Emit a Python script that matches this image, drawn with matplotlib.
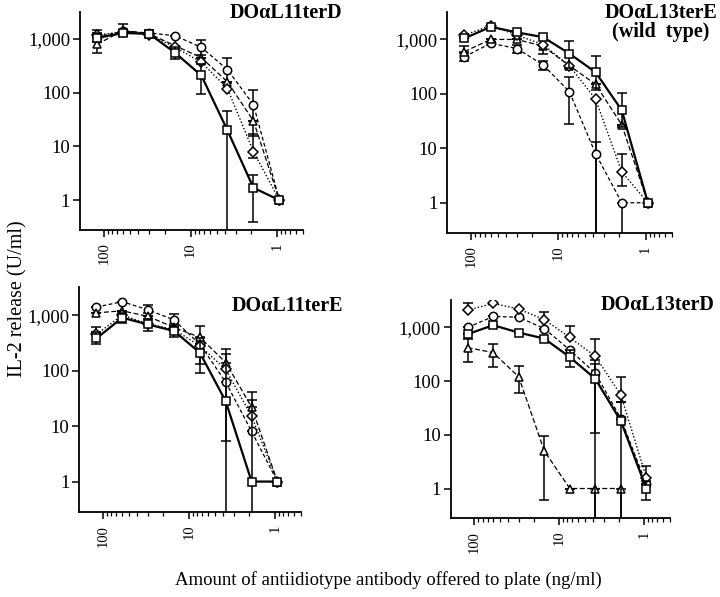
import numpy as np
import matplotlib
matplotlib.use("Agg")
from matplotlib import pyplot as plt
from matplotlib.ticker import FixedLocator, NullLocator, LogLocator, NullFormatter

plt.rcParams['font.family'] = ['Liberation Serif', 'DejaVu Serif']

# antibody amounts (ng/ml), twofold dilutions
dose = [120, 60, 30, 15, 7.5, 3.75, 1.875, 0.94]
BOTTOM = 0.01  # bar runs off the bottom of the axis

# --- DOaL11terD ---
tl_sq = [1050, 1300, 1250, 550, 210, 20, 1.7, 1]
tl_sq_lo = [900, 1150, 1100, 420, 95, BOTTOM, 0.4, 1]
tl_sq_hi = [1300, 1500, 1400, 700, 350, 45, 3.0, 1]
tl_ci = [1100, 1400, 1300, 1150, 700, 270, 60, 1]
tl_ci_lo = [1100, 1400, 1300, 1150, 500, 150, 30, 1]
tl_ci_hi = [1100, 1400, 1300, 1150, 980, 450, 115, 1]
tl_tr = [800, 1450, 1250, 750, 450, 160, 30, 1]
tl_tr_lo = [550, 1300, 1100, 750, 450, 160, 16, 1]
tl_tr_hi = [1500, 1900, 1500, 750, 450, 160, 30, 1]
tl_di = [1200, 1350, 1200, 700, 370, 120, 8, 1]
tl_di_lo = [1200, 1350, 1200, 700, 370, 120, 6, 1]
tl_di_hi = [1200, 1350, 1200, 700, 370, 120, 17, 1]

# --- DOaL13terE (wild type) ---
tr_sq = [1050, 1700, 1350, 1100, 550, 250, 50, 1]
tr_sq_lo = [1050, 1700, 1350, 1100, 300, 120, 25, 1]
tr_sq_hi = [1050, 1700, 1350, 1100, 950, 500, 105, 1]
tr_ci = [480, 850, 680, 340, 110, 8, 1, 1]
tr_ci_lo = [400, 800, 560, 280, 28, BOTTOM, BOTTOM, 1]
tr_ci_hi = [560, 900, 800, 400, 200, 13, 1, 1]
tr_tr = [600, 1000, 1000, 750, 330, 150, 27, 1]
tr_tr_lo = [600, 1000, 1000, 550, 330, 150, 27, 1]
tr_tr_hi = [750, 1000, 1000, 750, 330, 150, 27, 1]
tr_di = [1200, 1800, 1200, 800, 330, 80, 3.7, 1]
tr_di_lo = [1200, 1800, 1200, 800, 330, BOTTOM, 2, 1]
tr_di_hi = [1200, 1800, 1200, 800, 330, 80, 8, 1]

# --- DOaL11terE ---
bl_sq = [380, 900, 680, 520, 210, 28, 1, 1]
bl_sq_lo = [300, 720, 520, 400, 90, BOTTOM, BOTTOM, 1]
bl_sq_hi = [500, 1100, 850, 650, 380, 200, 30, 1]
bl_ci = [1400, 1750, 1250, 820, 300, 62, 8, 1]
bl_ci_lo = [1400, 1750, 1100, 700, 130, 5.3, 8, 1]
bl_ci_hi = [1400, 1750, 1500, 1050, 300, 62, 8, 1]
bl_tr = [1100, 1200, 950, 600, 400, 140, 22, 1]
bl_tr_lo = [1100, 1200, 950, 600, 400, 140, 22, 1]
bl_tr_hi = [1100, 1200, 950, 600, 640, 250, 42, 1]
bl_di = [450, 1000, 700, 550, 280, 105, 15, 1]
bl_di_lo = [450, 1000, 700, 550, 280, 105, 15, 1]
bl_di_hi = [600, 1000, 700, 550, 280, 105, 15, 1]

# --- DOaL13terD ---
br_sq = [750, 1100, 800, 620, 280, 110, 18, 1]
br_sq_lo = [750, 1100, 800, 620, 180, BOTTOM, BOTTOM, 0.6]
br_sq_hi = [750, 1100, 800, 620, 380, 210, 40, 1.4]
br_ci = [1000, 1600, 1550, 950, 380, 140, 20, 1.2]
br_ci_lo = [1000, 1600, 1550, 950, 380, 11, 20, 1.2]
br_ci_hi = [1000, 1600, 1550, 950, 380, 250, 20, 1.2]
br_tr = [420, 340, 120, 5, 1, 1, 1]
br_tr_lo = [230, 180, 60, 0.6, 1, BOTTOM, BOTTOM]
br_tr_hi = [600, 500, 190, 9.5, 1, 1, 1]
br_di = [2100, 2800, 2200, 1400, 650, 290, 55, 1.6]
br_di_lo = [2100, 2800, 2200, 1400, 650, 290, 40, 1.6]
br_di_hi = [2900, 2800, 2200, 1900, 1050, 620, 120, 2.6]

panels = [
    ("DO\u03b1L11terD", [0.111, 0.615, 0.310, 0.365],
     [(tl_sq, tl_sq_lo, tl_sq_hi), (tl_ci, tl_ci_lo, tl_ci_hi),
      (tl_tr, tl_tr_lo, tl_tr_hi), (tl_di, tl_di_lo, tl_di_hi)]),
    ("DO\u03b1L13terE", [0.621, 0.610, 0.312, 0.370],
     [(tr_sq, tr_sq_lo, tr_sq_hi), (tr_ci, tr_ci_lo, tr_ci_hi),
      (tr_tr, tr_tr_lo, tr_tr_hi), (tr_di, tr_di_lo, tr_di_hi)]),
    ("DO\u03b1L11terE", [0.110, 0.142, 0.308, 0.377],
     [(bl_sq, bl_sq_lo, bl_sq_hi), (bl_ci, bl_ci_lo, bl_ci_hi),
      (bl_tr, bl_tr_lo, bl_tr_hi), (bl_di, bl_di_lo, bl_di_hi)]),
    ("DO\u03b1L13terD", [0.626, 0.132, 0.304, 0.365],
     [(br_sq, br_sq_lo, br_sq_hi), (br_ci, br_ci_lo, br_ci_hi),
      (br_tr, br_tr_lo, br_tr_hi), (br_di, br_di_lo, br_di_hi)]),
]

styles = [
    dict(marker='s', ls='-', lw=1.6, ms=6.0),
    dict(marker='o', ls=(0, (3, 2)), lw=0.9, ms=6.0),
    dict(marker='^', ls=(0, (4, 2)), lw=0.9, ms=6.0),
    dict(marker='D', ls=(0, (1, 1.5)), lw=1.0, ms=5.2),
]
order = [1, 2, 3, 0]  # draw squares on top

fig = plt.figure(figsize=(7.2, 5.97), dpi=100)

title_pos = [(0.476, 0.978), (0.997, 0.978), (0.476, 0.487), (0.993, 0.489)]

for (title, rect, series), (tx, ty) in zip(panels, title_pos):
    ax = fig.add_axes(rect)
    for i in order:
        y, lo, hi = series[i]
        x = dose[:len(y)]
        y = np.array(y, float)
        yerr = [y - np.array(lo, float), np.array(hi, float) - y]
        st = styles[i]
        ax.errorbar(x, y, yerr=yerr, color='black', ecolor='black',
                    elinewidth=1.1, capsize=3.5, capthick=1.1,
                    marker=st['marker'], ms=st['ms'], mfc='white', mec='black',
                    mew=1.1, ls=st['ls'], lw=st['lw'], zorder=3 + (i == 0))
    ax.set_xscale('log')
    ax.set_yscale('log')
    ax.set_xlim(190, 0.5)
    ax.set_ylim(0.28, 3200)
    ax.spines['top'].set_visible(False)
    ax.spines['right'].set_visible(False)
    ax.spines['left'].set_linewidth(1.3)
    ax.spines['bottom'].set_linewidth(1.3)
    ax.xaxis.set_major_locator(FixedLocator([100, 10, 1]))
    ax.xaxis.set_minor_locator(LogLocator(base=10, subs=np.arange(2, 10)))
    ax.xaxis.set_minor_formatter(NullFormatter())
    ax.set_xticklabels(['100', '10', '1'], rotation=90, fontsize=10.5)
    ax.yaxis.set_major_locator(FixedLocator([1, 10, 100, 1000]))
    ax.yaxis.set_minor_locator(NullLocator())
    ax.set_yticklabels(['1', '10', '100', '1,000'], fontsize=13.5)
    ax.tick_params(axis='both', which='major', direction='out', length=5, width=1.1)
    ax.tick_params(axis='x', which='minor', direction='out', length=3, width=0.9)
    ax.tick_params(axis='x', pad=4)
    ax.tick_params(axis='y', pad=2)
    fig.text(tx, ty, title, ha='right', va='center', fontsize=14.5, fontweight='bold')

fig.text(0.917, 0.946, "(wild  type)", ha='center', va='center', fontsize=14.5,
         fontweight='bold')

fig.text(0.025, 0.5, "IL-2 release (U/ml)", rotation=90, ha='center', va='center',
         fontsize=14.5)
fig.text(0.54, 0.028, "Amount of antiidiotype antibody offered to plate (ng/ml)",
         ha='center', va='center', fontsize=13.5)

fig.savefig("out.png", dpi=100)
